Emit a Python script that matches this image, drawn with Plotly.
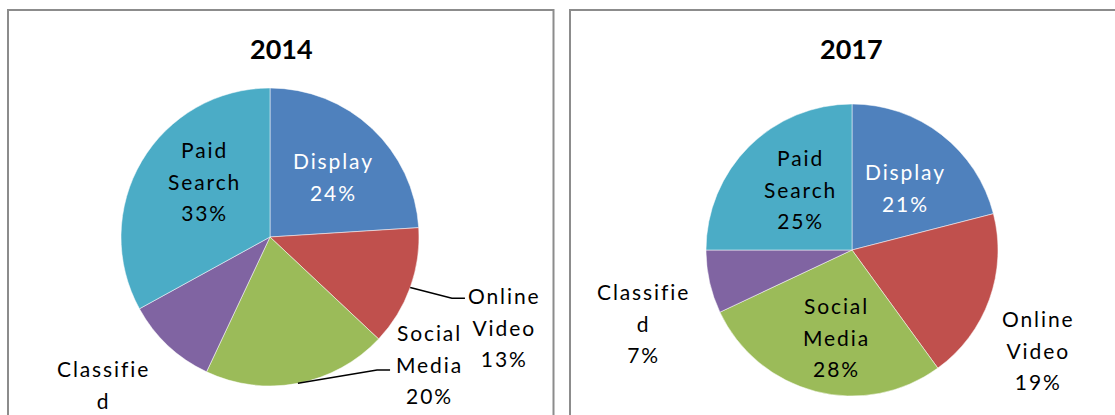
import math
import plotly.graph_objects as go

# ---------------- data ----------------
categories = ["Display", "Online Video", "Social Media", "Classified", "Paid Search"]
wrapped_labels = ["Display", "Online<br>Video", "Social<br>Media", "Classifie<br>d", "Paid<br>Search"]
years = ["2014", "2017"]
values_2014 = [24, 13, 20, 10, 33]
values_2017 = [21, 19, 28, 7, 25]

# ---------------- style / layout ----------------
W, H = 1115, 415
slice_colors = ["#4F81BD", "#C0504D", "#9BBB59", "#8064A2", "#4BACC6"]
label_colors = ["#FFFFFF", "#000000", "#000000", "#000000", "#000000"]
FONT = "Lato"
LABEL_PX = 21
LETTER_SP = 1.9
LINE_PX = 31.5  # desired line spacing in px

# pie placement in pixels: centre x, centre y, radius
pie_geom = [dict(cx=270, cy=237, r=149), dict(cx=852, cy=250, r=146)]
title_pos = [(281.5, 49), (851, 49)]
# label placement: (radial factor of r, angular offset from slice mid-angle, degrees)
label_place = [
    [(0.589, 3.6), (1.689, 1.2), (1.366, -40.6), (1.566, 2.5), (0.576, 10.1)],
    [(0.568, 2.8), (1.447, 8.5), (0.606, -4.0), (1.516, -6.7), (0.549, 4.6)],
]
# leader lines (only 2014): slice index -> (elbow offset, end offset) relative to label centre
leaders = [
    {1: ((-53, -29), (-40, -29)), 2: ((-52, 6), (-39, 6))},
    {},
]
# panel boxes (pixels)
boxes = [(8, 10, 553.5, 430), (570, 10, 1130, 430)]


def px(x):
    return x / W


def py(y):
    return 1 - y / H


fig = go.Figure()
annotations = []
shapes = []

for i, (year, vals) in enumerate(zip(years, [values_2014, values_2017])):
    g = pie_geom[i]
    fig.add_trace(go.Pie(
        labels=categories,
        values=vals,
        sort=False,
        direction="clockwise",
        rotation=0,
        marker=dict(colors=slice_colors, line=dict(color="#FFFFFF", width=0.5)),
        textinfo="none",
        hoverinfo="label+percent",
        showlegend=False,
        domain=dict(x=[px(g["cx"] - g["r"]), px(g["cx"] + g["r"])],
                    y=[py(g["cy"] + g["r"]), py(g["cy"] - g["r"])]),
    ))

    total = sum(vals)
    cum = 0
    for j, v in enumerate(vals):
        a0 = cum / total * 360
        cum += v
        a1 = cum / total * 360
        mid = (a0 + a1) / 2
        k, d = label_place[i][j]
        ang = math.radians(mid + d)
        lx = g["cx"] + k * g["r"] * math.sin(ang)
        ly = g["cy"] - k * g["r"] * math.cos(ang)
        pct = round(v / total * 100)
        lines = (wrapped_labels[j] + "<br>" + f"{pct}%").split("<br>")
        txt = "<br>".join(
            f'<span style="font-size:{LABEL_PX}px;letter-spacing:{LETTER_SP}px">{t}</span>'
            for t in lines)
        annotations.append(dict(
            x=px(lx), y=py(ly), xref="paper", yref="paper",
            text=txt, showarrow=False, xanchor="center", yanchor="middle",
            align="center",
            font=dict(family=FONT, size=LINE_PX / 1.3, color=label_colors[j]),
        ))
        if j in leaders[i]:
            (ex, ey), (tx, ty) = leaders[i][j]
            am = math.radians(mid)
            sx = g["cx"] + g["r"] * math.sin(am)
            sy = g["cy"] - g["r"] * math.cos(am)
            path = (f"M {px(sx)} {py(sy)} L {px(lx + ex)} {py(ly + ey)} "
                    f"L {px(lx + tx)} {py(ly + ty)}")
            shapes.append(dict(type="path", xref="paper", yref="paper", path=path,
                               line=dict(color="#000000", width=1.5)))

    tx, ty = title_pos[i]
    annotations.append(dict(
        x=px(tx), y=py(ty), xref="paper", yref="paper", text=f"<b>{year}</b>",
        showarrow=False, xanchor="center", yanchor="middle",
        font=dict(family=FONT, size=27, color="#000000"),
    ))

for (x0, y0, x1, y1) in boxes:
    shapes.append(dict(type="rect", xref="paper", yref="paper",
                       x0=px(x0), y0=py(y1), x1=px(x1), y1=py(y0),
                       line=dict(color="#8C8C8C", width=2), fillcolor="rgba(0,0,0,0)",
                       layer="below"))

fig.update_layout(
    width=W, height=H,
    margin=dict(l=0, r=0, t=0, b=0),
    paper_bgcolor="#FFFFFF",
    plot_bgcolor="#FFFFFF",
    annotations=annotations,
    shapes=shapes,
    font=dict(family=FONT),
)

fig.write_html("out.html",
               config={"displayModeBar": False},
               post_script="document.body.style.margin='0';document.body.style.overflow='hidden';")
